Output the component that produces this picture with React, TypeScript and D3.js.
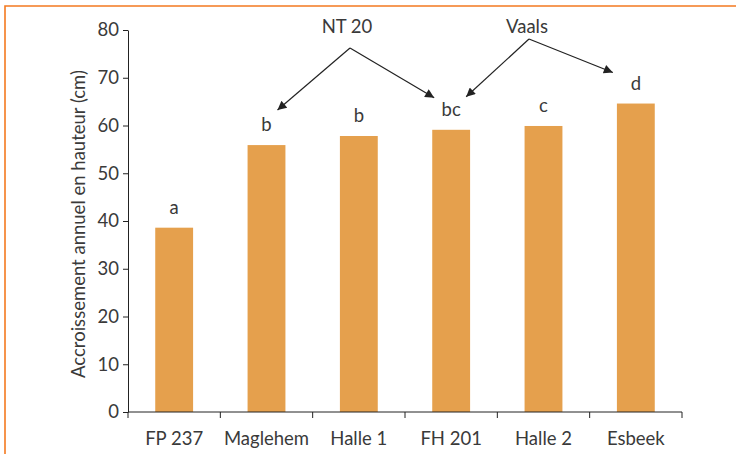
import * as d3 from 'd3';
import React, { useEffect, useRef } from 'react';

const categories = ['FP 237', 'Maglehem', 'Halle 1', 'FH 201', 'Halle 2', 'Esbeek'];
const values = [38.6, 55.9, 57.8, 59.1, 59.9, 64.6];
const groupLetters = ['a', 'b', 'b', 'bc', 'c', 'd'];
const yTicks = [0, 10, 20, 30, 40, 50, 60, 70, 80];

// annotation callouts: label and the categories it points at
const callouts = [
   { label: 'NT 20', targets: ['Maglehem', 'FH 201'] },
   { label: 'Vaals', targets: ['FH 201', 'Esbeek'] },
];

// layout of the callouts (label position, apex of arrows, arrow tip offsets from bar top centre)
const calloutLayout = [
   { x: 347, y: 33, apexY: 48, tips: [[11, -35], [-17, -32]] },
   { x: 527, y: 33, apexY: 39, tips: [[15, -33], [-23, -31]] },
];

const W = 736;
const H = 454;
const FONT = 'Lato, "Open Sans", sans-serif';
const TEXT = '#3a3a3a';
const FS = 18.5;

const App = () => {
   const ref = useRef<SVGSVGElement | null>(null);

   useEffect(() => {
      const svg = d3.select(ref.current);
      svg.selectAll('*').remove();

      const margin = { top: 30, right: 54, bottom: 42, left: 128 };
      const innerW = W - margin.left - margin.right;
      const innerH = H - margin.top - margin.bottom;

      // frame
      svg.append('path')
         .attr('d', `M5,${H} V6 H${W}`)
         .attr('fill', 'none')
         .attr('stroke', '#f47a20')
         .attr('stroke-width', 1.6);

      const defs = svg.append('defs');
      defs.append('marker')
         .attr('id', 'arrow')
         .attr('viewBox', '0 0 10 10')
         .attr('refX', 10)
         .attr('refY', 5)
         .attr('markerWidth', 11)
         .attr('markerHeight', 9)
         .attr('markerUnits', 'userSpaceOnUse')
         .attr('orient', 'auto')
         .append('path')
         .attr('d', 'M0,0 L10,5 L0,10 z')
         .attr('fill', '#222');

      const g = svg.append('g').attr('transform', `translate(${margin.left},${margin.top})`);

      const x = d3.scaleBand().domain(categories).range([0, innerW]).paddingInner(0.59).paddingOuter(0.295);
      const y = d3.scaleLinear().domain([0, 80]).range([innerH, 0]);

      g.selectAll('rect.bar')
         .data(values)
         .join('rect')
         .attr('class', 'bar')
         .attr('x', (_, i) => x(categories[i])!)
         .attr('y', (d) => y(d))
         .attr('width', x.bandwidth())
         .attr('height', (d) => innerH - y(d))
         .attr('fill', '#e5a04d');

      g.selectAll('text.letter')
         .data(groupLetters)
         .join('text')
         .attr('class', 'letter')
         .attr('x', (_, i) => x(categories[i])! + x.bandwidth() / 2)
         .attr('y', (_, i) => y(values[i]) - 14)
         .attr('text-anchor', 'middle')
         .attr('font-family', FONT)
         .attr('font-size', FS)
         .attr('fill', TEXT)
         .text((d) => d);

      // y axis
      const yAxis = g.append('g').call(d3.axisLeft(y).tickValues(yTicks).tickSize(5).tickSizeOuter(0));
      // x axis
      const step = x.step();
      const xEdges = d3.range(categories.length + 1).map((i) => i * step);
      const xAxis = g.append('g').attr('transform', `translate(0,${innerH})`);
      xAxis.append('line').attr('x1', 0).attr('x2', innerW).attr('stroke', '#222');
      xAxis.selectAll('line.tk')
         .data(xEdges)
         .join('line')
         .attr('class', 'tk')
         .attr('x1', (d) => d)
         .attr('x2', (d) => d)
         .attr('y1', 0)
         .attr('y2', 6)
         .attr('stroke', '#222');
      xAxis.selectAll('text')
         .data(categories)
         .join('text')
         .attr('x', (d) => x(d)! + x.bandwidth() / 2)
         .attr('y', 33)
         .attr('text-anchor', 'middle')
         .attr('font-family', FONT)
         .attr('font-size', FS)
         .attr('fill', TEXT)
         .text((d) => d);

      yAxis.select('.domain').attr('stroke', '#222');
      yAxis.selectAll('.tick line').attr('stroke', '#222');
      yAxis.selectAll('.tick text')
         .attr('font-family', FONT)
         .attr('font-size', FS)
         .attr('fill', TEXT)
         .attr('dx', -1);

      g.append('text')
         .attr('transform', `translate(${-43},${innerH / 2 + 3}) rotate(-90)`)
         .attr('text-anchor', 'middle')
         .attr('font-family', FONT)
         .attr('font-size', FS)
         .attr('fill', TEXT)
         .text('Accroissement annuel en hauteur (cm)');

      // callouts
      callouts.forEach((c, ci) => {
         const p = calloutLayout[ci];
         svg.append('text')
            .attr('x', p.x)
            .attr('y', p.y)
            .attr('text-anchor', 'middle')
            .attr('font-family', FONT)
            .attr('font-size', FS)
            .attr('fill', TEXT)
            .text(c.label);
         c.targets.forEach((t, ti) => {
            const i = categories.indexOf(t);
            const cx = margin.left + x(t)! + x.bandwidth() / 2;
            const top = margin.top + y(values[i]);
            const [dx, dy] = p.tips[ti];
            svg.append('line')
               .attr('x1', p.x + (ci === 0 ? 3 : 2))
               .attr('y1', p.apexY)
               .attr('x2', cx + dx)
               .attr('y2', top + dy)
               .attr('stroke', '#222')
               .attr('stroke-width', 1.2)
               .attr('marker-end', 'url(#arrow)');
         });
      });
   }, []);

   return (
      <svg
         ref={ref}
         width={W}
         height={H}
         style={{ position: 'fixed', left: 0, top: 0, background: '#fff' }}
      />
   );
};

export default App;
